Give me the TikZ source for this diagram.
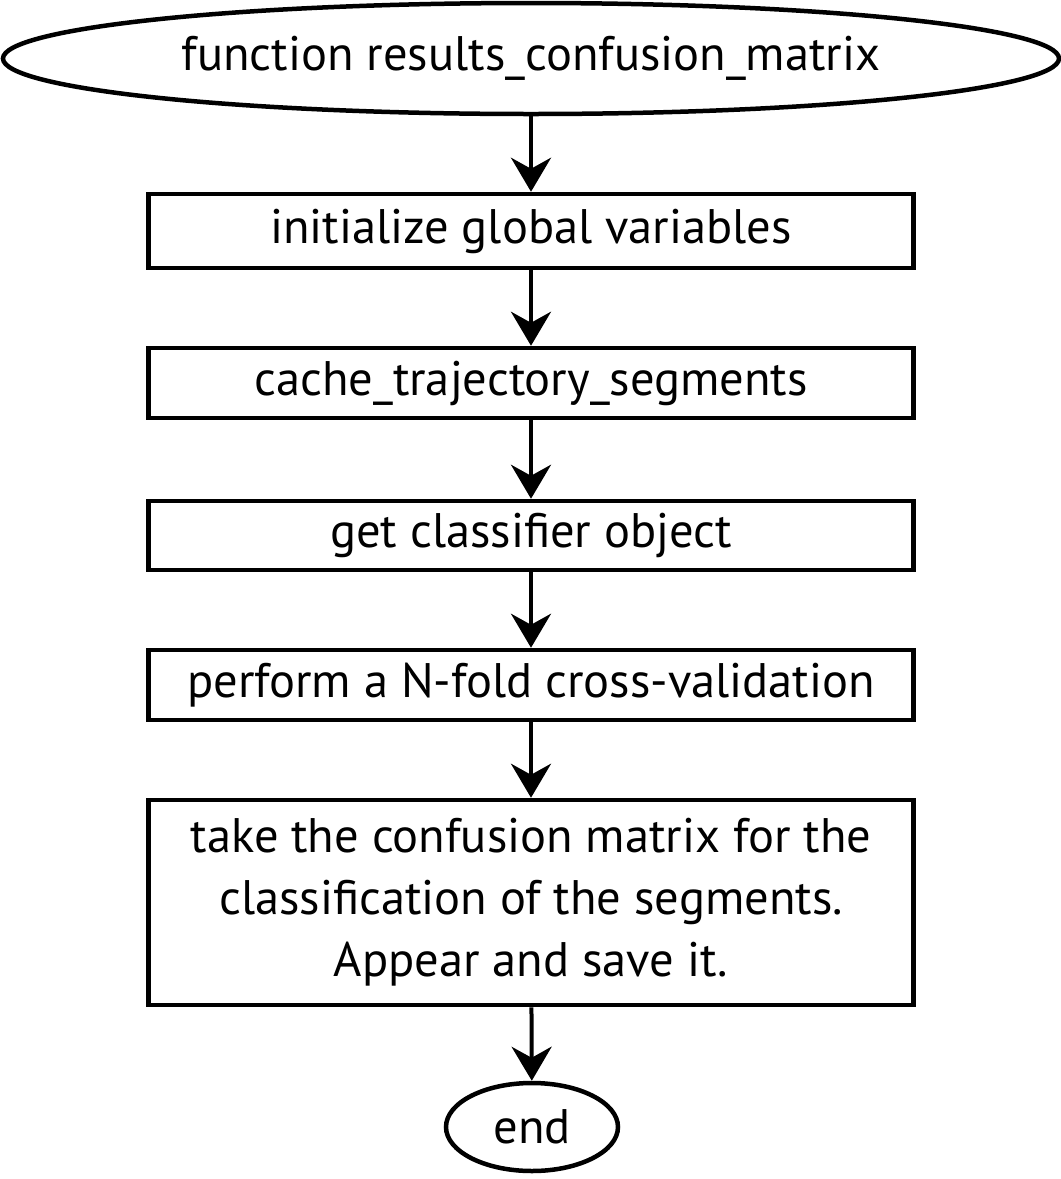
\documentclass[tikz,border=0pt]{standalone}
\usepackage{fontspec}
\setmainfont{PT Sans}
\usetikzlibrary{shapes.geometric,arrows.meta}
\begin{document}
\begin{tikzpicture}[x=1pt,y=-1pt,
  every node/.style={font=\fontsize{48.5}{62}\selectfont, inner sep=0pt, line width=4.5pt, draw=black},
  procbox/.style={rectangle, minimum width=765pt, align=center},
  term/.style={ellipse},
  flow/.style={line width=4pt, -{Stealth[length=34pt,width=40pt,inset=11pt]}}]
\useasboundingbox (0,0) rectangle (1061,1179);
\node[term, minimum width=1056pt, minimum height=111pt] (start) at (531,58.5) {function results\_confusion\_matrix};
\node[procbox, minimum height=74pt] (b1) at (531,231) {initialize global variables};
\node[procbox, minimum height=70pt] (b2) at (531,383) {cache\_trajectory\_segments};
\node[procbox, minimum height=69pt] (b3) at (531,535.5) {get classifier object};
\node[procbox, minimum height=70pt] (b4) at (531,685) {perform a N-fold cross-validation};
\node[procbox, minimum height=205pt] (b5) at (531,902.5) {take the confusion matrix for the\\classification of the segments.\\Appear and save it.};
\node[term, minimum width=172pt, minimum height=88pt] (end) at (532,1127) {end};
\draw[flow] (start) -- (b1);
\draw[flow] (b1) -- (b2);
\draw[flow] (b2) -- (b3);
\draw[flow] (b3) -- (b4);
\draw[flow] (b4) -- (b5);
\draw[flow] (b5) -- (end);
\end{tikzpicture}
\end{document}
